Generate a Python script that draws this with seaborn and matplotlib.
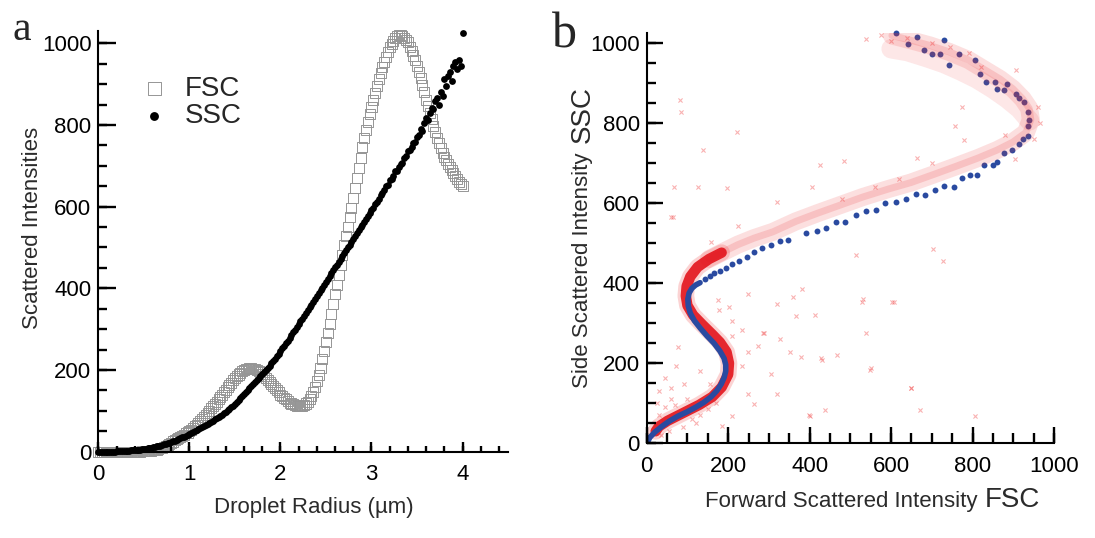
import numpy as np
import pandas as pd
import seaborn as sns
from matplotlib import pyplot as plt
from matplotlib.ticker import MultipleLocator

sns.set_style("white")
plt.rcParams["font.family"] = ["Liberation Sans", "DejaVu Sans"]
plt.rcParams["axes.axisbelow"] = False

# panel a: droplet radius grid (um) and scattered intensities
radius = np.round(np.arange(0, 4.001, 0.02), 2)
fsc = [
    0, 0, 0, 0, 0, 0, 0, 0, 0, 0,
    0, 0, 0, 0, 0, 0, 0, 0, 0, 0,
    0, 0, 0, 0, 1, 1, 1, 1, 2, 2,
    3, 4, 5, 7, 9, 10, 12, 14, 17, 19,
    22, 25, 28, 31, 34, 36, 39, 42, 45, 47,
    50, 54, 58, 62, 66, 70, 75, 80, 85, 90,
    95, 100, 106, 111, 117, 122, 128, 134, 140, 146,
    152, 158, 163, 169, 175, 180, 185, 189, 193, 197,
    200, 202, 203, 204, 204, 203, 202, 200, 198, 194,
    190, 186, 181, 176, 171, 165, 160, 155, 150, 145,
    140, 136, 132, 128, 124, 120, 118, 116, 114, 113,
    112, 112, 113, 115, 118, 122, 128, 136, 146, 158,
    172, 188, 206, 226, 246, 268, 290, 313, 337, 361,
    385, 409, 433, 457, 481, 505, 528, 551, 574, 597,
    620, 645, 670, 695, 720, 745, 767, 788, 808, 827,
    845, 862, 879, 895, 912, 928, 941, 954, 966, 978,
    990, 998, 1006, 1012, 1017, 1020, 1020, 1018, 1014, 1008,
    1002, 992, 982, 970, 958, 945, 930, 914, 897, 880,
    862, 846, 830, 814, 798, 782, 768, 755, 743, 732,
    722, 713, 705, 697, 689, 682, 675, 668, 661, 655,
    650,
]
ssc = [
    0, 0, 0, 0, 0, 0, 0, 0, 0, 0,
    1, 1, 1, 1, 1, 2, 2, 2, 3, 3,
    4, 4, 5, 5, 6, 7, 7, 8, 9, 10,
    11, 12, 13, 14, 15, 17, 18, 19, 21, 22,
    24, 26, 27, 29, 31, 33, 35, 37, 39, 41,
    44, 46, 48, 50, 53, 55, 58, 60, 63, 65,
    68, 71, 73, 76, 79, 82, 85, 88, 91, 94,
    97, 101, 105, 109, 113, 118, 122, 127, 132, 137,
    142, 146, 151, 155, 160, 165, 170, 175, 180, 185,
    190, 195, 200, 205, 210, 216, 222, 228, 234, 240,
    247, 253, 260, 266, 272, 278, 285, 292, 298, 305,
    312, 319, 326, 333, 340, 347, 354, 360, 367, 374,
    381, 388, 395, 402, 409, 416, 423, 430, 437, 444,
    451, 458, 465, 472, 479, 486, 493, 500, 507, 514,
    521, 528, 535, 542, 549, 556, 563, 570, 577, 584,
    592, 597, 606, 612, 618, 628, 633, 641, 650, 652,
    664, 668, 674, 686, 688, 697, 704, 708, 718, 723,
    735, 738, 746, 756, 758, 770, 776, 790, 786, 804,
    818, 812, 830, 842, 838, 858, 866, 850, 880, 872,
    912, 896, 920, 930, 908, 944, 955, 936, 960, 945,
    1025,
]

# panel b: model curve (blue), dense part and sparse part
blue_line_fsc = [0, 8, 20, 37, 55, 75, 100, 120, 140, 158, 172, 183, 190, 194, 194,
                 190, 180, 165, 148, 131, 117, 107, 102, 101, 104, 111, 120, 131]
blue_line_ssc = [0, 15, 28, 42, 55, 67, 79, 90, 102, 116, 131, 148, 164, 180, 196,
                 212, 230, 250, 268, 288, 306, 325, 343, 360, 375, 387, 395, 401]
blue_dot_fsc = [143, 155, 166, 180, 194, 209, 227, 245, 264, 284, 304, 327, 347, 390,
                417, 441, 464, 488, 515, 539, 562, 586, 613, 637, 660, 684, 707, 731,
                755, 774, 794, 812, 829, 849, 860, 876, 896, 915, 923, 935, 937, 939,
                935, 927, 915, 907, 884, 876, 860, 856, 833, 817, 805, 766, 743, 719,
                700, 680, 731, 664, 641, 613]
blue_dot_ssc = [409, 417, 424, 431, 438, 447, 455, 466, 478, 488, 496, 506, 508, 526,
                530, 538, 552, 553, 571, 579, 583, 600, 603, 611, 623, 621, 633, 643,
                641, 663, 671, 669, 695, 695, 702, 724, 732, 748, 760, 768, 792, 808,
                828, 853, 861, 873, 897, 881, 885, 901, 901, 921, 957, 971, 945, 973,
                973, 981, 1006, 1014, 998, 1024]

# panel b: measured droplets (red), dense band, diffuse band and single events
red_low_fsc = [22, 30, 51, 90, 129, 161, 184, 200, 202, 196, 180, 161, 137, 114, 100,
               96, 98, 107, 125, 153, 184]
red_low_ssc = [30, 42, 56, 76, 96, 116, 140, 172, 200, 228, 252, 272, 296, 320, 344,
               368, 392, 416, 440, 460, 476]
red_up_fsc = [153, 184, 224, 263, 310, 366, 421, 476, 531, 594, 649, 704, 758, 813,
              860, 899, 931, 943, 939, 923, 899, 868, 829, 790, 743, 696, 649, 602]
red_up_ssc = [460, 476, 496, 512, 528, 554, 575, 595, 615, 635, 651, 671, 691, 712,
              732, 752, 776, 808, 836, 860, 885, 909, 933, 957, 977, 993, 1006, 1018]
red_top_fsc = [600, 640, 690, 730, 770, 810, 850, 885, 915, 940]
red_top_ssc = [985, 978, 962, 948, 930, 910, 885, 860, 835, 805]
red_out_fsc = [84, 221, 139, 68, 127, 198, 60, 225, 158, 515, 704, 727, 602, 531, 382,
               358, 249, 319, 413, 539, 366, 288, 272, 249, 233, 378, 429, 468, 551, 649,
               672, 398, 319, 264, 72, 76, 45, 209, 174, 202, 425, 774, 758, 778, 904,
               907, 539, 664, 484, 405, 319, 60, 29, 92, 155, 131, 209, 233, 178, 249,
               351, 327, 304, 437, 186, 209, 82, 65, 606, 650, 401, 806, 548, 430, 286,
               528, 30, 45, 25, 60, 40, 70, 100, 110, 130, 150, 170, 90, 120, 35, 55,
               575, 600, 640, 700, 745, 790, 820, 960, 965, 950, 880, 700, 620, 560, 480]
red_out_ssc = [827, 776, 732, 639, 639, 637, 566, 542, 502, 470, 486, 454, 353, 361, 385,
               365, 373, 349, 321, 276, 317, 276, 244, 228, 192, 216, 212, 220, 188, 139,
               83, 71, 123, 99, 192, 240, 164, 305, 357, 341, 695, 840, 792, 756, 709,
               933, 1010, 713, 705, 639, 603, 139, 131, 147, 147, 180, 268, 284, 333, 123,
               228, 260, 172, 83, 43, 67, 857, 566, 354, 137, 67, 67, 183, 208, 275,
               354, 70, 90, 100, 110, 55, 95, 110, 60, 70, 85, 100, 40, 50, 20, 30,
               1020, 1005, 1012, 1000, 990, 975, 940, 840, 800, 760, 770, 700, 660, 640, 610]

df_a = pd.DataFrame({"radius": radius, "FSC": fsc, "SSC": ssc})

fig = plt.figure(figsize=(10.95, 5.38), dpi=100)
ax_a = fig.add_axes([0.0898, 0.1604, 0.3742, 0.7820])
ax_b = fig.add_axes([0.5906, 0.1760, 0.3720, 0.7632])

# ---- panel a
sns.scatterplot(data=df_a, x="radius", y="FSC", marker="s", s=52, facecolor="none",
                edgecolor="#959595", linewidth=0.7, label="FSC", ax=ax_a, clip_on=False)
sns.scatterplot(data=df_a, x="radius", y="SSC", marker="o", s=24, color="black",
                edgecolor="black", linewidth=0, label="SSC", ax=ax_a, clip_on=False)

ax_a.set_xlim(0, 4.5)
ax_a.set_ylim(0, 1030)
ax_a.set_xlabel("")
ax_a.set_ylabel("")

leg = ax_a.legend(loc="upper left", bbox_to_anchor=(0.075, 0.92), frameon=False,
                  fontsize=20, markerscale=1.3, handlelength=1.0, handletextpad=0.6,
                  labelspacing=0.05, borderaxespad=0)

# ---- panel b
sns.lineplot(x=red_top_fsc, y=red_top_ssc, sort=False, estimator=None, color="#f03a3a",
             alpha=0.12, linewidth=14, solid_capstyle="round", ax=ax_b)
sns.lineplot(x=red_up_fsc, y=red_up_ssc, sort=False, estimator=None, color="#f03a3a",
             alpha=0.16, linewidth=13, solid_capstyle="round", ax=ax_b)
sns.lineplot(x=red_up_fsc, y=red_up_ssc, sort=False, estimator=None, color="#e8262c",
             alpha=0.16, linewidth=5, solid_capstyle="round", ax=ax_b)
sns.lineplot(x=red_low_fsc, y=red_low_ssc, sort=False, estimator=None, color="#f03a3a",
             alpha=0.22, linewidth=12, solid_capstyle="round", ax=ax_b)
sns.lineplot(x=red_low_fsc, y=red_low_ssc, sort=False, estimator=None, color="#e3141c",
             alpha=0.9, linewidth=7.5, solid_capstyle="round", ax=ax_b)
sns.scatterplot(x=red_out_fsc, y=red_out_ssc, marker="x", s=9, color="#f04040",
                alpha=0.4, linewidth=0.8, ax=ax_b)
sns.lineplot(x=blue_line_fsc, y=blue_line_ssc, sort=False, estimator=None, color="#2a4aa0",
             linewidth=4, ax=ax_b)
sns.scatterplot(x=blue_dot_fsc, y=blue_dot_ssc, marker="o", s=18, color="#2a4aa0",
                linewidth=0, ax=ax_b, clip_on=False)

ax_b.set_xlim(0, 1000)
ax_b.set_ylim(0, 1025)

# axis frame: left/bottom spines with inward tick marks
frame = {
    ax_a: dict(xmaj=1, xmin=0.2, ymaj=200, ymin=50, xtop=4.45, ytop=1000,
               xl=(0.024, 0.013), yl=(0.042, 0.022)),
    ax_b: dict(xmaj=200, xmin=50, ymaj=200, ymin=50, xtop=1000, ytop=1000,
               xl=(0.039, 0.024), yl=(0.039, 0.022)),
}
for ax, f in frame.items():
    ax.spines["top"].set_visible(False)
    ax.spines["right"].set_visible(False)
    for side in ("left", "bottom"):
        ax.spines[side].set_linewidth(1.5)
        ax.spines[side].set_color("black")
    ax.xaxis.set_major_locator(MultipleLocator(f["xmaj"]))
    ax.yaxis.set_major_locator(MultipleLocator(f["ymaj"]))
    ax.tick_params(which="both", length=0, labelcolor="black", labelsize=16)
    ax.tick_params(axis="x", pad=9)
    ax.tick_params(axis="y", pad=5)

    xt_major = np.arange(0, f["xtop"] + 1e-9, f["xmaj"])
    xt_minor = np.arange(0, f["xtop"] + 1e-9, f["xmin"])
    yt_major = np.arange(0, f["ytop"] + 1e-9, f["ymaj"])
    yt_minor = np.arange(0, f["ytop"] + 1e-9, f["ymin"])
    xa = ax.get_xaxis_transform()
    ya = ax.get_yaxis_transform()
    tk = dict(color="black", lw=1.7, clip_on=False, zorder=10)
    ax.vlines(xt_minor, 0, f["xl"][1], transform=xa, **tk)
    ax.vlines(xt_major, 0, f["xl"][0], transform=xa, **tk)
    ax.hlines(yt_minor, 0, f["yl"][1], transform=ya, **tk)
    ax.hlines(yt_major, 0, f["yl"][0], transform=ya, **tk)

# labels
lab = "#2b2b2b"
fig.text(0.287, 0.056, "Droplet Radius (\u00b5m)", fontsize=16, color=lab,
         ha="center", va="center")
fig.text(0.030, 0.576, "Scattered Intensities", fontsize=16, color=lab,
         rotation=90, ha="center", va="center")
fig.text(0.644, 0.058, "Forward Scattered Intensity", fontsize=16, color=lab,
         ha="left", va="baseline")
fig.text(0.8995, 0.058, "FSC", fontsize=20, color=lab, ha="left", va="baseline")
fig.text(0.5324, 0.279, "Side Scattered Intensity", fontsize=16, color=lab,
         rotation=90, ha="center", va="bottom")
fig.text(0.5324, 0.734, "SSC", fontsize=20, color=lab, rotation=90,
         ha="center", va="bottom")

fig.text(12 / 1095, 1 - 40 / 538, "a", fontsize=30, family="Liberation Serif",
         ha="left", va="baseline")
fig.text(552 / 1095, 1 - 47 / 538, "b", fontsize=36, family="Liberation Serif",
         ha="left", va="baseline")

fig.savefig("out.png", dpi=100)
plt.close(fig)
